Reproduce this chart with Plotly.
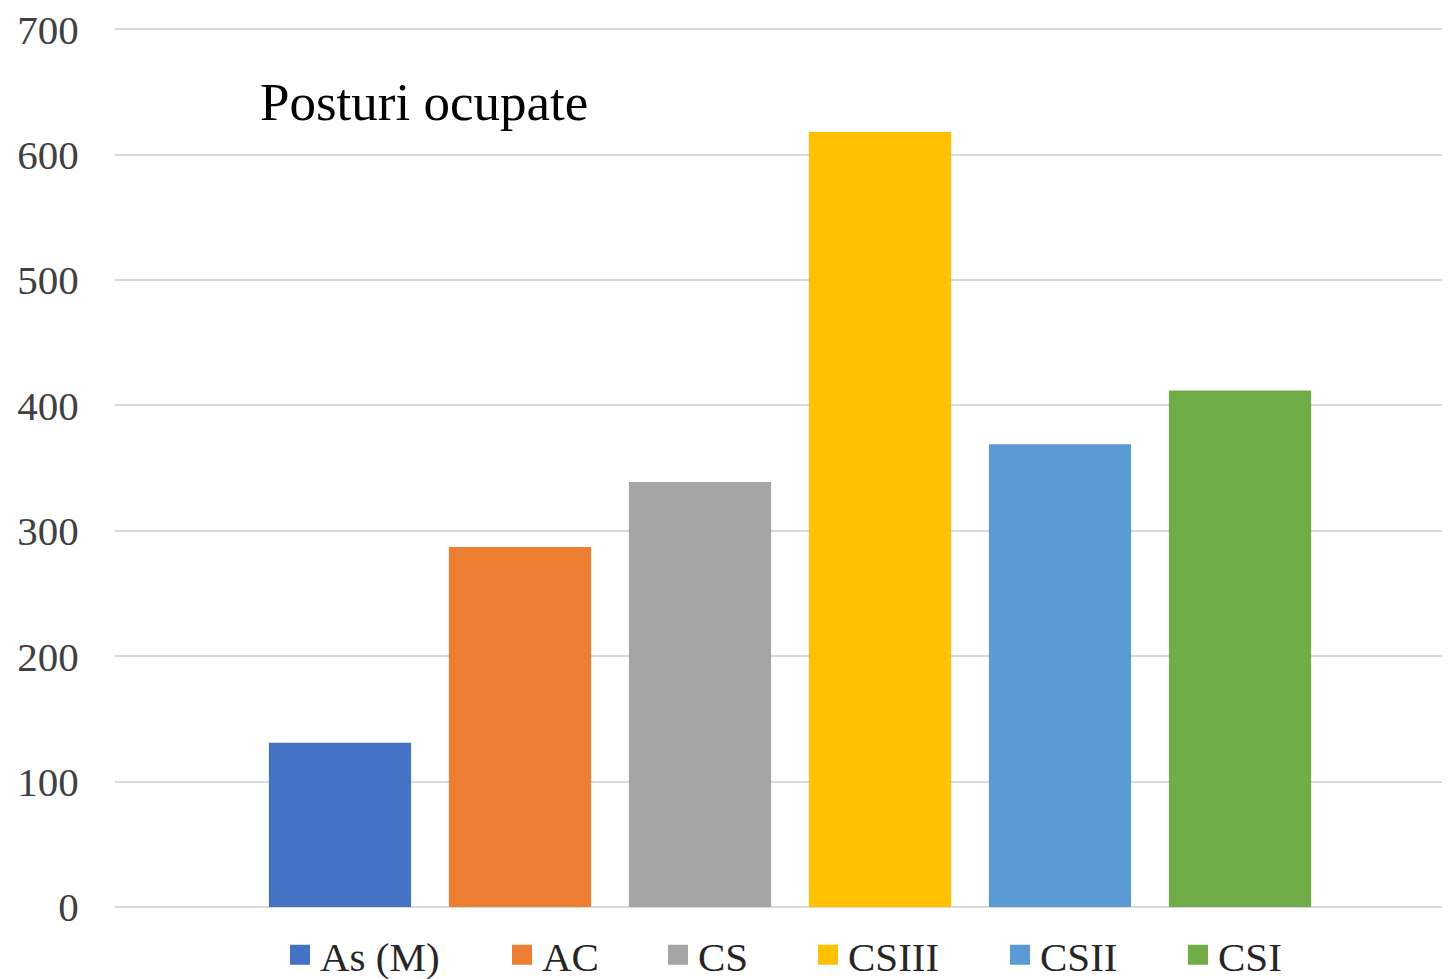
import plotly.graph_objects as go

series_names = ["As (M)", "AC", "CS", "CSIII", "CSII", "CSI"]
series_values = [131, 287, 339, 618, 369, 412]
series_colors = ["#4472C4", "#ED7D31", "#A5A5A5", "#FFC000", "#5B9BD5", "#70AD47"]
category = ["Posturi ocupate"]
y_ticks = [0, 100, 200, 300, 400, 500, 600, 700]

# page is drawn with an 8px body margin, so the figure is 8px smaller and offset
OFF = 8
W, H = 1450 - OFF, 979 - OFF
ml, mr, mt, mb = 115 - OFF, 0, 20, 72
pw = W - ml - mr
ph = H - mt - mb

# legend text start positions (page pixels) for each entry
legend_text_x = [320, 542, 698, 848, 1040, 1218]
legend_ids = ["legend"] + ["legend%d" % i for i in range(2, 7)]

fig = go.Figure()
for name, val, col in zip(series_names, series_values, series_colors):
    fig.add_trace(go.Bar(x=category, y=[val], name=name, showlegend=False,
                         marker=dict(color=col, line=dict(width=0))))
for name, col, lid in zip(series_names, series_colors, legend_ids):
    fig.add_trace(go.Scatter(x=[None], y=[None], mode="markers", name=name, legend=lid,
                             marker=dict(symbol="square", size=22, color=col,
                                         line=dict(color=col, width=4)),
                             showlegend=True))

legend_layout = {}
for lid, tx in zip(legend_ids, legend_text_x):
    legend_layout[lid] = dict(
        orientation="h", xref="container", yref="container",
        x=(tx - OFF - 40) / W, xanchor="left", y=(H - (955 - OFF)) / H, yanchor="middle",
        font=dict(family="Liberation Serif", size=41, color="#262626"),
        itemwidth=30, itemsizing="trace", bgcolor="rgba(0,0,0,0)", borderwidth=0)

fig.update_layout(
    width=W, height=H,
    margin=dict(l=ml, r=mr, t=mt, b=mb, pad=0, autoexpand=False),
    paper_bgcolor="white", plot_bgcolor="white",
    barmode="group", bargap=0.2, bargroupgap=0.21,
    font=dict(family="Liberation Serif", size=41, color="#404040"),
    showlegend=True,
    annotations=[dict(text="Posturi ocupate", xref="paper", yref="paper",
                      x=(258 - 115) / pw, y=(899 - 94) / ph, xanchor="left", yanchor="middle",
                      showarrow=False, font=dict(family="Liberation Serif", size=53, color="black"))],
    **legend_layout,
)
fig.update_xaxes(range=[-0.5, 0.5 - 15 / 1350], showticklabels=False, showgrid=False,
                 zeroline=False, showline=False, ticks="", automargin=False)
fig.update_yaxes(range=[0, 701], tickvals=y_ticks, ticktext=[str(v) for v in y_ticks],
                 showgrid=True, gridcolor="#d9d9d9", gridwidth=2, zeroline=True,
                 zerolinecolor="#d9d9d9", zerolinewidth=2, showline=False,
                 ticks="outside", ticklen=0, ticklabelstandoff=27, automargin=False,
                 ticklabeloverflow="allow",
                 tickfont=dict(family="Liberation Serif", size=41, color="#404040"))

fig.write_html("out.html")
